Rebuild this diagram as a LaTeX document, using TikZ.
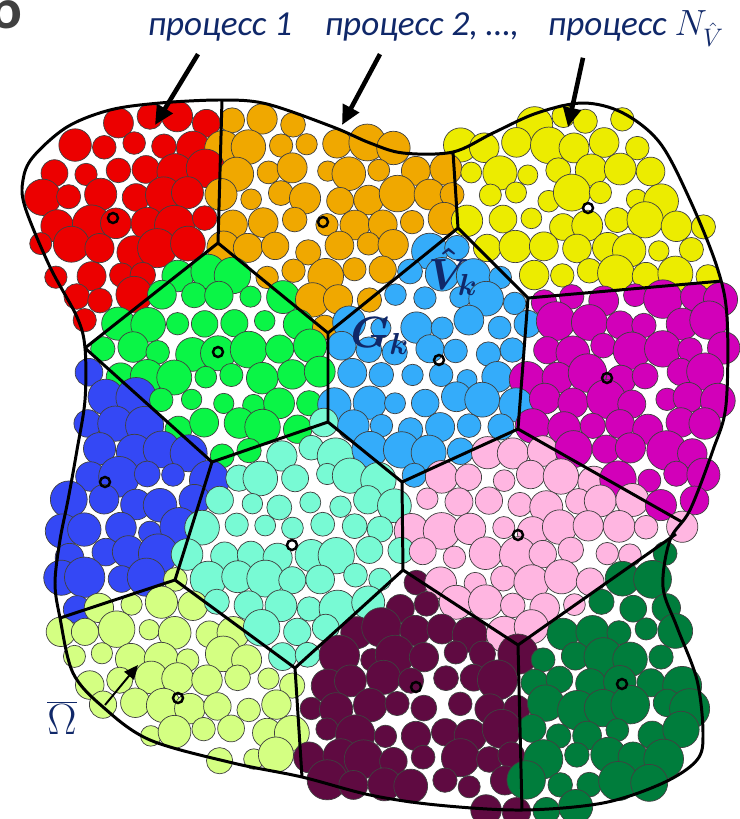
\documentclass[tikz,border=0pt]{standalone}
\usepackage{fontspec}
\setmainfont{Carlito}
\usetikzlibrary{arrows.meta}

\definecolor{navy}{RGB}{16,40,105}
\definecolor{letgray}{RGB}{64,64,64}
\definecolor{cell1}{RGB}{236,0,0}
\definecolor{cell2}{RGB}{240,168,0}
\definecolor{cell3}{RGB}{236,236,0}
\definecolor{cell4}{RGB}{10,245,70}
\definecolor{cell5}{RGB}{52,172,250}
\definecolor{cell6}{RGB}{210,0,185}
\definecolor{cell7}{RGB}{52,72,245}
\definecolor{cell8}{RGB}{120,250,212}
\definecolor{cell9}{RGB}{255,182,225}
\definecolor{cell10}{RGB}{212,255,130}
\definecolor{cell11}{RGB}{95,10,65}
\definecolor{cell12}{RGB}{0,125,60}

\tikzset{
    cellline/.style={line width=1.7pt, line join=round},
    grain/.style={draw=black!75, line width=0.4pt},
    seed/.style={draw, line width=1.4pt},
    bigarrow/.style={line width=2.6pt, -{Triangle[length=11pt,width=10pt]}},
    smallarrow/.style={line width=1.1pt, -{Triangle[length=8pt,width=7pt]}},
    lbl/.style={text=navy, font=\fontsize{20}{24}\selectfont\itshape, inner sep=0pt},
    mathlbl/.style={text=navy, font=\fontsize{26}{30}\selectfont\boldmath, inner sep=0pt}
}

\def\bnd{333,353,370,385,400,415,401,340,303,304,333,371,403,438,454,387,316,300,303,318,344,366,379,372,355,342,339,347,362,384,411,436,420,341,307,318,333}
\def\seeds{113/218,323/222,588/208,218/352,439/360,607/378,105/482,292/545,518/535,178/698,416/687,622/684}

\begin{document}
\begin{tikzpicture}[x=0.02cm, y=-0.02cm]
    \useasboundingbox (0,0) rectangle (740,819);
    \pgfmathsetseed{11}

    \foreach \row in {0,...,28}{
        \foreach \col in {0,...,25}{
            \pgfmathsetmacro\cx{14+\col*29.5+mod(\row,2)*14.75+9*(rnd-0.5)}
            \pgfmathsetmacro\cy{95+\row*25.5+9*(rnd-0.5)}
            \pgfmathsetmacro\rr{10+8.5*rnd}
            \pgfmathsetmacro\ang{mod(atan2(450-\cy,\cx-380)+360,360)}
            \pgfmathtruncatemacro\ia{\ang/10}
            \pgfmathtruncatemacro\ib{\ia+1}
            \pgfmathsetmacro\fr{\ang/10-\ia}
            \edef\rexpr{{\bnd}[\ia]*(1-\fr)+{\bnd}[\ib]*\fr}
            \pgfmathsetmacro\rlim{\rexpr}
            \pgfmathtruncatemacro\inside{veclen(\cx-380,450-\cy)<\rlim+2}
            \ifnum\inside=1
                \xdef\best{1}\xdef\bestd{5000}
                \foreach \sx/\sy [count=\si] in \seeds {
                    \pgfmathsetmacro\sd{veclen(\cx-\sx,\cy-\sy)}
                    \pgfmathtruncatemacro\closer{\sd<\bestd}
                    \ifnum\closer=1 \xdef\bestd{\sd}\xdef\best{\si}\fi
                }
                \pgfmathsetmacro\rad{\rr*{1.1,1,1,1,1,1.08,1.1,1,1,1,1.1,1.1}[\best-1]}
                \filldraw[grain, fill=cell\best] (\cx,\cy) circle[radius=\rad];
            \fi
        }
    }

    \coordinate (va) at (222,100);
    \coordinate (vb) at (218,243);
    \coordinate (vc) at (85,348);
    \coordinate (vd) at (328,333);
    \coordinate (ve) at (458,228);
    \coordinate (vf) at (453,152);
    \coordinate (vg) at (528,298);
    \coordinate (vh) at (722,281);
    \coordinate (vi) at (328,422);
    \coordinate (vj) at (212,462);
    \coordinate (vk) at (175,580);
    \coordinate (vl) at (60,618);
    \coordinate (vm) at (295,668);
    \coordinate (vn) at (302,777);
    \coordinate (vo) at (402,482);
    \coordinate (vp) at (518,429);
    \coordinate (vq) at (403,570);
    \coordinate (vr) at (518,645);
    \coordinate (vs) at (522,810);
    \coordinate (vt) at (682,522);
    \coordinate (vu) at (676,534);

    \draw[cellline] (va) -- (vb) -- (vc) (vb) -- (vd) -- (ve) -- (vf) (ve) -- (vg) -- (vh)
        (vd) -- (vi) -- (vj) -- (vc) (vj) -- (vk) -- (vl) (vk) -- (vm) -- (vn)
        (vi) -- (vo) -- (vp) -- (vg) (vo) -- (vq) -- (vm) (vq) -- (vr) -- (vs)
        (vr) -- (vu) (vp) -- (vt);

    \draw[cellline] plot[smooth cycle, tension=0.55] coordinates {
        (222,100) (267,104) (333,127) (370,143) (403,153) (453,152) (493,133)
        (537,113) (583,103) (623,113) (660,143) (690,200) (717,267) (727,317)
        (726,405) (713,450) (690,510) (670,540) (663,587) (677,627) (697,680)
        (703,733) (697,760) (663,783) (603,803) (522,810) (437,805) (370,795)
        (302,777) (233,763) (150,740) (103,707) (73,673) (60,618) (55,583)
        (60,540) (68,500) (77,450) (85,400) (85,348) (77,317) (50,267)
        (25,207) (23,180) (33,157) (67,127) (110,110) (160,103)};

    \foreach \sx/\sy in \seeds {
        \draw[seed] (\sx,\sy) circle[radius=5];
    }

    \node[text=letgray, font=\fontsize{34}{40}\selectfont\bfseries, inner sep=0pt, anchor=base east] (panel) at (23,28) {б};

    \node[lbl, anchor=base] (proc1) at (220,35) {процесс 1};
    \node[lbl, anchor=base] (proc2) at (422,35) {процесс 2, …,};
    \node[lbl, anchor=base] (procN) at (636,35) {процесс $N_{\hat V}$};

    \coordinate (tip1) at (155,125);
    \coordinate (tip2) at (342,125);
    \coordinate (tipN) at (568,127);
    \draw[bigarrow] (proc1.south) ++(-22,13) -- (tip1);
    \draw[bigarrow] (proc2.south) ++(-42,13) -- (tip2);
    \draw[bigarrow] (procN.south) ++(-53,11) -- (tipN);

    \node[mathlbl] (vhat) at (453,272) {$\hat V_k$};
    \node[mathlbl] (gk) at (380,336) {$G_k$};

    \node[mathlbl, font=\fontsize{24}{28}\selectfont] (omega) at (62,718) {$\overline{\Omega}$};
    \coordinate (omtail) at (105,705);
    \coordinate (omtip) at (138,665);
    \draw[smallarrow] (omtail) -- (omtip);
\end{tikzpicture}
\end{document}
